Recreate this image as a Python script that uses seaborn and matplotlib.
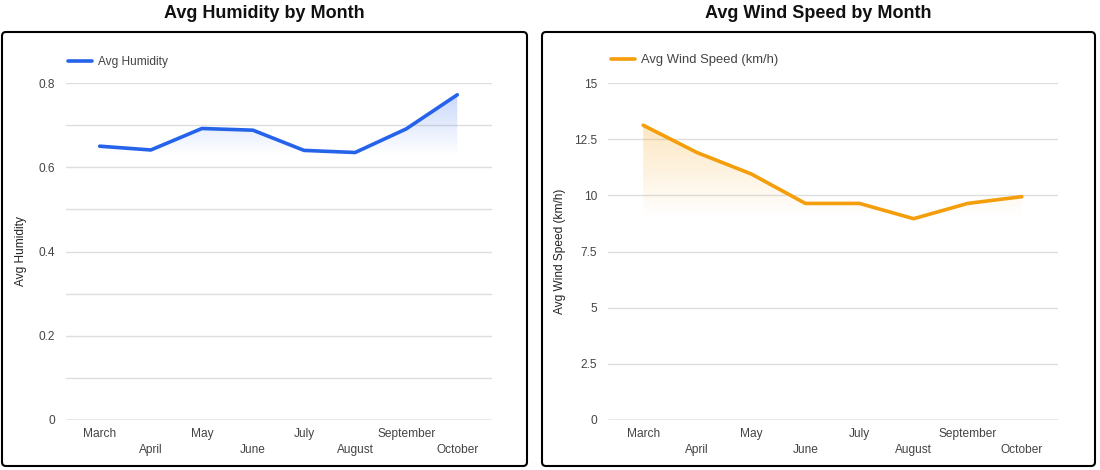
import numpy as np
import pandas as pd
import matplotlib
matplotlib.use("Agg")
import matplotlib.pyplot as plt
import seaborn as sns
from matplotlib.patches import FancyBboxPatch, Polygon
from matplotlib.transforms import IdentityTransform
from matplotlib.colors import to_rgb

months = ["March", "April", "May", "June", "July", "August", "September", "October"]
humidity = [0.650, 0.641, 0.692, 0.688, 0.640, 0.635, 0.691, 0.772]
wind_speed = [13.12, 11.90, 10.95, 9.64, 9.64, 8.96, 9.64, 9.94]

hum_ticks = [0, 0.2, 0.4, 0.6, 0.8]
hum_tick_labels = ["0", "0.2", "0.4", "0.6", "0.8"]
hum_minor = [0.1, 0.3, 0.5, 0.7]
wind_ticks = [0, 2.5, 5, 7.5, 10, 12.5, 15]
wind_tick_labels = ["0", "2.5", "5", "7.5", "10", "12.5", "15"]

sns.set_theme(style="white")
plt.rcParams["font.family"] = ["Liberation Sans", "DejaVu Sans"]

W, H = 1100, 470
fig = plt.figure(figsize=(11, 4.7), dpi=100)
fig.patch.set_facecolor("white")


def px_axes(x0, x1, ytop, ybot):
    return fig.add_axes([x0 / W, 1 - ybot / H, (x1 - x0) / W, (ybot - ytop) / H])


TXT = "#444444"
FS = 8.6


def panel(ax, values, color, label, ticks, ticklabels, minor, ytop, fade_to,
          ylabel, xlim, leg_x, leg_y, leg_fs, ylab_x):
    n = len(values)
    df = pd.DataFrame({"idx": np.arange(n), "Month": months, "Value": values})
    sns.lineplot(data=df, x="idx", y="Value", color=color, lw=2.6, ax=ax,
                 label=label, zorder=4, solid_joinstyle="round",
                 solid_capstyle="round")
    # gradient fill under the line
    ys = np.linspace(0, ytop, 400)
    vmax = max(values)
    alpha = np.clip((ys - fade_to) / (vmax - fade_to), 0, 1) * 0.25
    img = np.zeros((len(ys), 1, 4))
    img[..., :3] = to_rgb(color)
    img[..., 3] = alpha[:, None]
    im = ax.imshow(img, extent=[0, n - 1, 0, ytop], origin="lower",
                   aspect="auto", zorder=2, interpolation="bilinear")
    poly = Polygon(list(zip(range(n), values)) + [(n - 1, 0), (0, 0)],
                   closed=True, transform=ax.transData, facecolor="none",
                   edgecolor="none")
    ax.add_patch(poly)
    im.set_clip_path(poly)

    ax.set_xlim(*xlim)
    ax.set_ylim(0, ytop)
    ax.set_aspect("auto")
    ax.set_yticks(ticks, labels=ticklabels)
    if minor:
        ax.set_yticks(minor, minor=True)
    ax.grid(True, axis="y", which="both", color="#dedede", lw=1)
    ax.grid(False, axis="x")
    ax.axhline(0, color="#aaaaaa", lw=1, zorder=3)
    ax.set_xticks(range(n),
                  labels=[m if i % 2 == 0 else "\n" + m for i, m in enumerate(months)])
    for t in ax.get_xticklabels():
        t.set_linespacing(1.45)
    ax.tick_params(axis="x", length=0, pad=5.5, labelsize=FS, labelcolor=TXT)
    ax.tick_params(axis="y", which="both", length=0, pad=8, labelsize=FS,
                   labelcolor=TXT)
    for s in ax.spines.values():
        s.set_visible(False)
    ax.set_xlabel("")
    ax.set_ylabel(ylabel, fontsize=FS, color="#222222")
    ax.yaxis.set_label_coords(ylab_x, 0.5)
    leg = ax.legend(loc="center left", bbox_to_anchor=(leg_x, leg_y),
                    frameon=False, handlelength=24 / (leg_fs * 100 / 72),
                    handletextpad=0.45, borderpad=0, borderaxespad=0,
                    fontsize=leg_fs)
    for t in leg.get_texts():
        t.set_color(TXT)
    ax.set_facecolor("none")


ax1 = px_axes(66, 492, 83, 420)
panel(ax1, humidity, "#2563eb", "Avg Humidity", hum_ticks, hum_tick_labels,
      hum_minor, 0.8, 0.63, "Avg Humidity", (-0.66, 7.68), 0.005, 1.063,
      8.6, -0.092)

ax2 = px_axes(608, 1058, 83, 420)
panel(ax2, wind_speed, "#f59e0b", "Avg Wind Speed (km/h)", wind_ticks,
      wind_tick_labels, None, 15, 9.0, "Avg Wind Speed (km/h)", (-0.65, 7.67),
      0.007, 1.067, 9.4, -0.094)

# panel borders
for x0, x1 in [(2, 527), (542, 1095)]:
    fig.patches.append(FancyBboxPatch((x0, 4), x1 - x0, 434,
                                      boxstyle="round,pad=0,rounding_size=4",
                                      transform=IdentityTransform(), fill=False,
                                      ec="black", lw=1.5))

fig.text(264 / W, 1 - 14 / H, "Avg Humidity by Month", ha="center", va="center",
         fontsize=13, fontweight="bold", color="#111111")
fig.text(818 / W, 1 - 14 / H, "Avg Wind Speed by Month", ha="center",
         va="center", fontsize=13, fontweight="bold", color="#111111")

fig.savefig("out.png", dpi=100)
